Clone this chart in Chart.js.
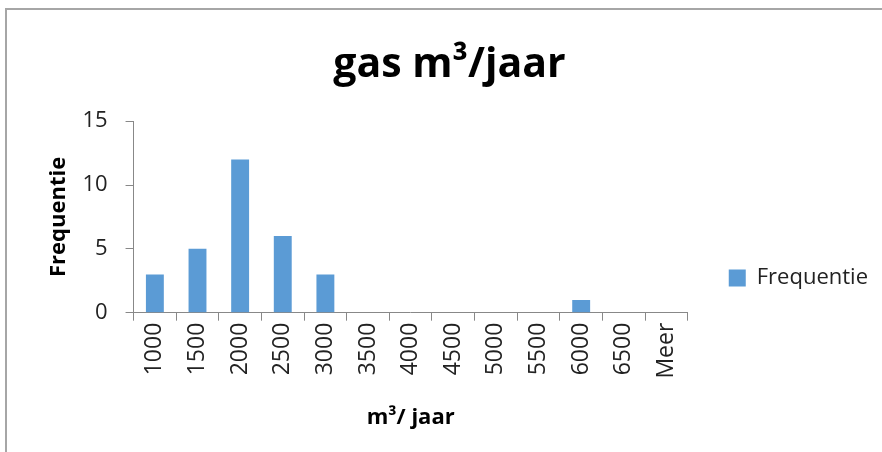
<!DOCTYPE html>
<html>
<head>
<meta charset="utf-8">
<script src="https://cdn.jsdelivr.net/npm/chart.js@4/dist/chart.umd.min.js"></script>
<style>
  html, body { margin: 0; padding: 0; background: #fff; overflow: hidden; }
  #frame { position: absolute; left: 5px; top: 8px; width: 877px; height: 444px;
           border-top: 2px solid #a6a6a6; border-left: 2px solid #a6a6a6; }
  #wrap { position: absolute; left: 0; top: 0; width: 875px; height: 442px; }
</style>
</head>
<body>
<div id="frame"><div id="wrap"><canvas id="c"></canvas></div></div>
<script>
const chartTitle = 'gas m³/jaar';
const xAxisTitle = 'm³/ jaar';
const yAxisTitle = 'Frequentie';
const seriesName = 'Frequentie';
const categories = ['1000','1500','2000','2500','3000','3500','4000','4500','5000','5500','6000','6500','Meer'];
const frequencies = [3, 5, 12, 6, 3, 0, 0, 0, 0, 0, 1, 0, 0];
const yTicks = [0, 5, 10, 15];

const FONT = "'Open Sans', sans-serif";
const axisColor = '#888888';

new Chart(document.getElementById('c'), {
  type: 'bar',
  data: {
    labels: categories,
    datasets: [{
      label: seriesName,
      data: frequencies,
      backgroundColor: '#5b9bd5',
      borderWidth: 0,
      barPercentage: 0.42,
      categoryPercentage: 1.0
    }]
  },
  options: {
    responsive: true,
    maintainAspectRatio: false,
    animation: false,
    devicePixelRatio: 1,
    layout: { padding: { left: 14, right: 4, top: 0, bottom: 21 } },
    plugins: {
      title: {
        display: true,
        text: chartTitle,
        color: '#000',
        font: { family: FONT, size: 41, weight: 'bold' },
        padding: { top: 31, bottom: 31 }
      },
      legend: {
        display: true,
        position: 'right',
        align: 'center',
        title: { display: true, text: '', padding: { top: 114, bottom: 0 }, font: { size: 1 } },
        labels: {
          color: '#222',
          font: { family: FONT, size: 22 },
          boxWidth: 17,
          boxHeight: 17,
          padding: 41
        }
      },
      tooltip: { enabled: false }
    },
    scales: {
      x: {
        offset: true,
        grid: { display: true, drawOnChartArea: false, drawTicks: true, tickLength: 8, color: axisColor, offset: true },
        border: { display: true, color: axisColor, width: 1 },
        ticks: { color: '#222', font: { family: FONT, size: 23 }, minRotation: 90, maxRotation: 90, padding: 2, autoSkip: false },
        title: { display: true, text: xAxisTitle, color: '#000', font: { family: FONT, size: 22, weight: 'bold' }, padding: { top: 24, bottom: 0 } }
      },
      y: {
        min: 0,
        max: 15,
        afterBuildTicks: (scale) => { scale.ticks = yTicks.map(v => ({ value: v })); },
        afterFit: (scale) => { scale.width -= 18; },
        grid: { display: true, drawOnChartArea: false, drawTicks: true, tickLength: 8, color: axisColor },
        border: { display: true, color: axisColor, width: 1 },
        ticks: { color: '#222', font: { family: FONT, size: 22 }, padding: 18 },
        title: { display: true, text: yAxisTitle, color: '#000', font: { family: FONT, size: 22, weight: 'bold' }, padding: { top: 25, bottom: 10 } }
      }
    }
  }
});
</script>
</body>
</html>
